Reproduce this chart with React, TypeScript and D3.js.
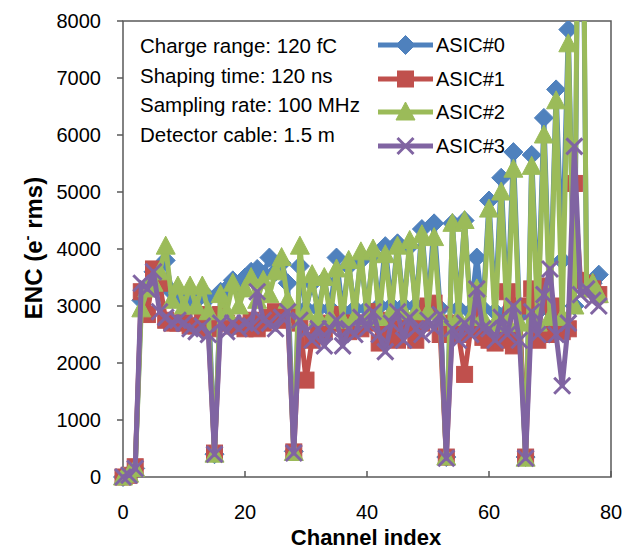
import React from "react";
import * as d3 from "d3";

const seriesNames = ["ASIC#0", "ASIC#1", "ASIC#2", "ASIC#3"];
const seriesColors = ["#4F81BD", "#C0504D", "#9BBB59", "#8064A2"];
const seriesMarkers = ["diamond", "square", "triangle", "cross"];

// ENC per channel (channel index = array position)
const asic0 = [
  0, 50, 150, 3100, 3300, 3600, 3500, 3800, 3250, 3150,
  3100, 3150, 3100, 3200, 3150, 400, 3250, 3300, 3450, 3350,
  3500, 3600, 3650, 3550, 3850, 3600, 3750, 3400, 450, 3700,
  2950, 3400, 2950, 3450, 2950, 3850, 2900, 3700, 2950, 3800,
  2950, 3900, 3000, 4050, 3000, 4100, 3000, 4050, 3000, 4350,
  3000, 4450, 2950, 350, 4450, 2950, 4500, 2900, 3850, 2950,
  4850, 2900, 5250, 2900, 5700, 2850, 350, 5650, 2900, 6300,
  2950, 6800, 3800, 7850, 3000, 15000, 3400, 3400, 3550,
];
const asic1 = [
  0, 30, 180, 3250, 2850, 3650, 3400, 2750, 2700, 2700,
  2750, 2650, 2650, 2850, 2600, 420, 2850, 2700, 2650, 2650,
  2600, 2750, 2600, 2700, 2800, 2900, 2750, 2850, 440, 2700,
  1700, 2400, 2650, 2550, 2700, 2850, 2700, 2550, 2700, 2600,
  2700, 2900, 2350, 2500, 2750, 2400, 2700, 2600, 2400, 2700,
  3000, 3050, 2500, 350, 2700, 2500, 1800, 2600, 2900, 2450,
  2400, 2350, 2400, 3250, 2300, 3000, 350, 3300, 2400, 3350,
  2500, 3000, 2550, 2600, 5150, 3450, 3400, 3300, 3200,
];
const asic2 = [
  0, 50, 150, 2950, 3300, 3400, 3600, 4050, 3100, 3350,
  3000, 3350, 3000, 3350, 2900, 400, 3200, 2900, 3400, 3000,
  3300, 3500, 3100, 3450, 3200, 3600, 3850, 3100, 430, 4050,
  2900, 3550, 2800, 3500, 2800, 3650, 2750, 3800, 2800, 3950,
  2800, 4000, 2800, 3900, 2900, 4050, 2900, 4150, 2900, 4250,
  2900, 4200, 2800, 350, 4450, 2800, 4500, 2800, 3300, 2800,
  4700, 2700, 5000, 2700, 5400, 2700, 330, 5450, 2700, 6000,
  2800, 6600, 2800, 7600, 3000, 16000, 3300, 3400, 3200,
];
const asic3 = [
  0, 30, 150, 3400, 3300, 3600, 2900, 2800, 2700, 2750,
  2700, 2600, 2550, 2650, 2500, 400, 2700, 2550, 2700, 2600,
  2700, 2650, 3250, 2750, 2700, 2600, 2800, 2900, 420, 2750,
  2550, 2400, 2600, 2300, 2600, 2750, 2300, 2600, 2500, 2800,
  2600, 2900, 2500, 2200, 2700, 2900, 2400, 2800, 2600, 2500,
  2750, 2600, 2850, 330, 2600, 2400, 2700, 2500, 3300, 2600,
  2600, 2400, 2800, 2500, 3000, 2400, 330, 2900, 2500, 3200,
  3650, 2500, 1600, 2700, 5800, 3200, 3300, 3100, 3000,
];
const allSeries = [asic0, asic1, asic2, asic3];

const xTicks = [0, 20, 40, 60, 80];
const yTicks = [0, 1000, 2000, 3000, 4000, 5000, 6000, 7000, 8000];
const infoLines = [
  "Charge range: 120 fC",
  "Shaping time: 120 ns",
  "Sampling rate: 100 MHz",
  "Detector cable: 1.5 m",
];

const W = 629, H = 551;
const L = 123, R = 611, T = 21, B = 477;
const FONT = "'Liberation Sans', Arial, sans-serif";

function Marker({ kind, x, y, color }: { kind: string; x: number; y: number; color: string }) {
  if (kind === "diamond") {
    const s = 9.5;
    return <path d={`M${x},${y - s}L${x + s},${y}L${x},${y + s}L${x - s},${y}Z`} fill={color} stroke={color} strokeWidth={1} />;
  }
  if (kind === "square") {
    const s = 8;
    return <rect x={x - s} y={y - s} width={2 * s} height={2 * s} fill={color} stroke={color} strokeWidth={1} />;
  }
  if (kind === "triangle") {
    const w = 9.5, h = 10;
    return <path d={`M${x},${y - h}L${x + w},${y + h * 0.8}L${x - w},${y + h * 0.8}Z`} fill={color} stroke={color} strokeWidth={1} strokeLinejoin="round" />;
  }
  const s = 8;
  return (
    <path d={`M${x - s},${y - s}L${x + s},${y + s}M${x - s},${y + s}L${x + s},${y - s}`} stroke={color} strokeWidth={3} fill="none" />
  );
}

export default function App() {
  const x = d3.scaleLinear().domain([0, 80]).range([L, R]);
  const y = d3.scaleLinear().domain([0, 8000]).range([B, T]);
  const line = d3.line<number>().x((_, i) => x(i)).y((d) => y(d));

  const legendX0 = 378, legendX1 = 433;
  const legendY = [45, 79, 112, 146];

  return (
    <svg width={W} height={H} style={{ position: "absolute", left: 0, top: 0, background: "#fff" }} fontFamily={FONT}>
      <defs>
        <clipPath id="plotclip">
          <rect x={95} y={T} width={R - 95 + 10} height={B - T + 30} />
        </clipPath>
      </defs>
      <rect x={0} y={0} width={W} height={H} fill="#fff" />
      {/* plot frame */}
      <rect x={L} y={T} width={R - L} height={B - T} fill="none" stroke="#595959" strokeWidth={1.5} />
      {/* y ticks (outside) */}
      {yTicks.map((t) => (
        <g key={"y" + t}>
          <line x1={L - 6} x2={L} y1={y(t)} y2={y(t)} stroke="#595959" strokeWidth={1.5} />
          <text x={101} y={y(t) + 7} textAnchor="end" fontSize={20} fill="#000">{t}</text>
        </g>
      ))}
      {/* x ticks (inside) */}
      {xTicks.map((t) => (
        <g key={"x" + t}>
          <line x1={x(t)} x2={x(t)} y1={B} y2={B - 6} stroke="#595959" strokeWidth={1.5} />
          <text x={x(t)} y={519} textAnchor="middle" fontSize={20} fill="#000">{t}</text>
        </g>
      ))}
      <text x={366} y={545} textAnchor="middle" fontSize={22} fontWeight="bold" fill="#000">Channel index</text>
      <text transform={`translate(42,248) rotate(-90)`} textAnchor="middle" fontSize={24} fontWeight="bold" fill="#000">
        ENC (e<tspan fontSize={15} dy={-10}>-</tspan><tspan dy={10}> rms)</tspan>
      </text>

      <g clipPath="url(#plotclip)">
        {allSeries.map((s, i) => (
          <g key={"s" + i}>
            <path d={line(s) || ""} fill="none" stroke={seriesColors[i]} strokeWidth={5} strokeLinejoin="round" />
            {s.map((v, j) =>
              v <= 8200 ? <Marker key={j} kind={seriesMarkers[i]} x={x(j)} y={y(v)} color={seriesColors[i]} /> : null
            )}
          </g>
        ))}
      </g>

      {/* info text */}
      {infoLines.map((t, i) => (
        <text key={"info" + i} x={140} y={53 + i * 29.5} fontSize={20.5} fill="#000">{t}</text>
      ))}

      {/* legend */}
      {seriesNames.map((n, i) => (
        <g key={"lg" + i}>
          <line x1={legendX0} x2={legendX1} y1={legendY[i]} y2={legendY[i]} stroke={seriesColors[i]} strokeWidth={5} />
          <Marker kind={seriesMarkers[i]} x={(legendX0 + legendX1) / 2} y={legendY[i]} color={seriesColors[i]} />
          <text x={436} y={legendY[i] + 7} fontSize={20} fill="#000">{n}</text>
        </g>
      ))}
    </svg>
  );
}
